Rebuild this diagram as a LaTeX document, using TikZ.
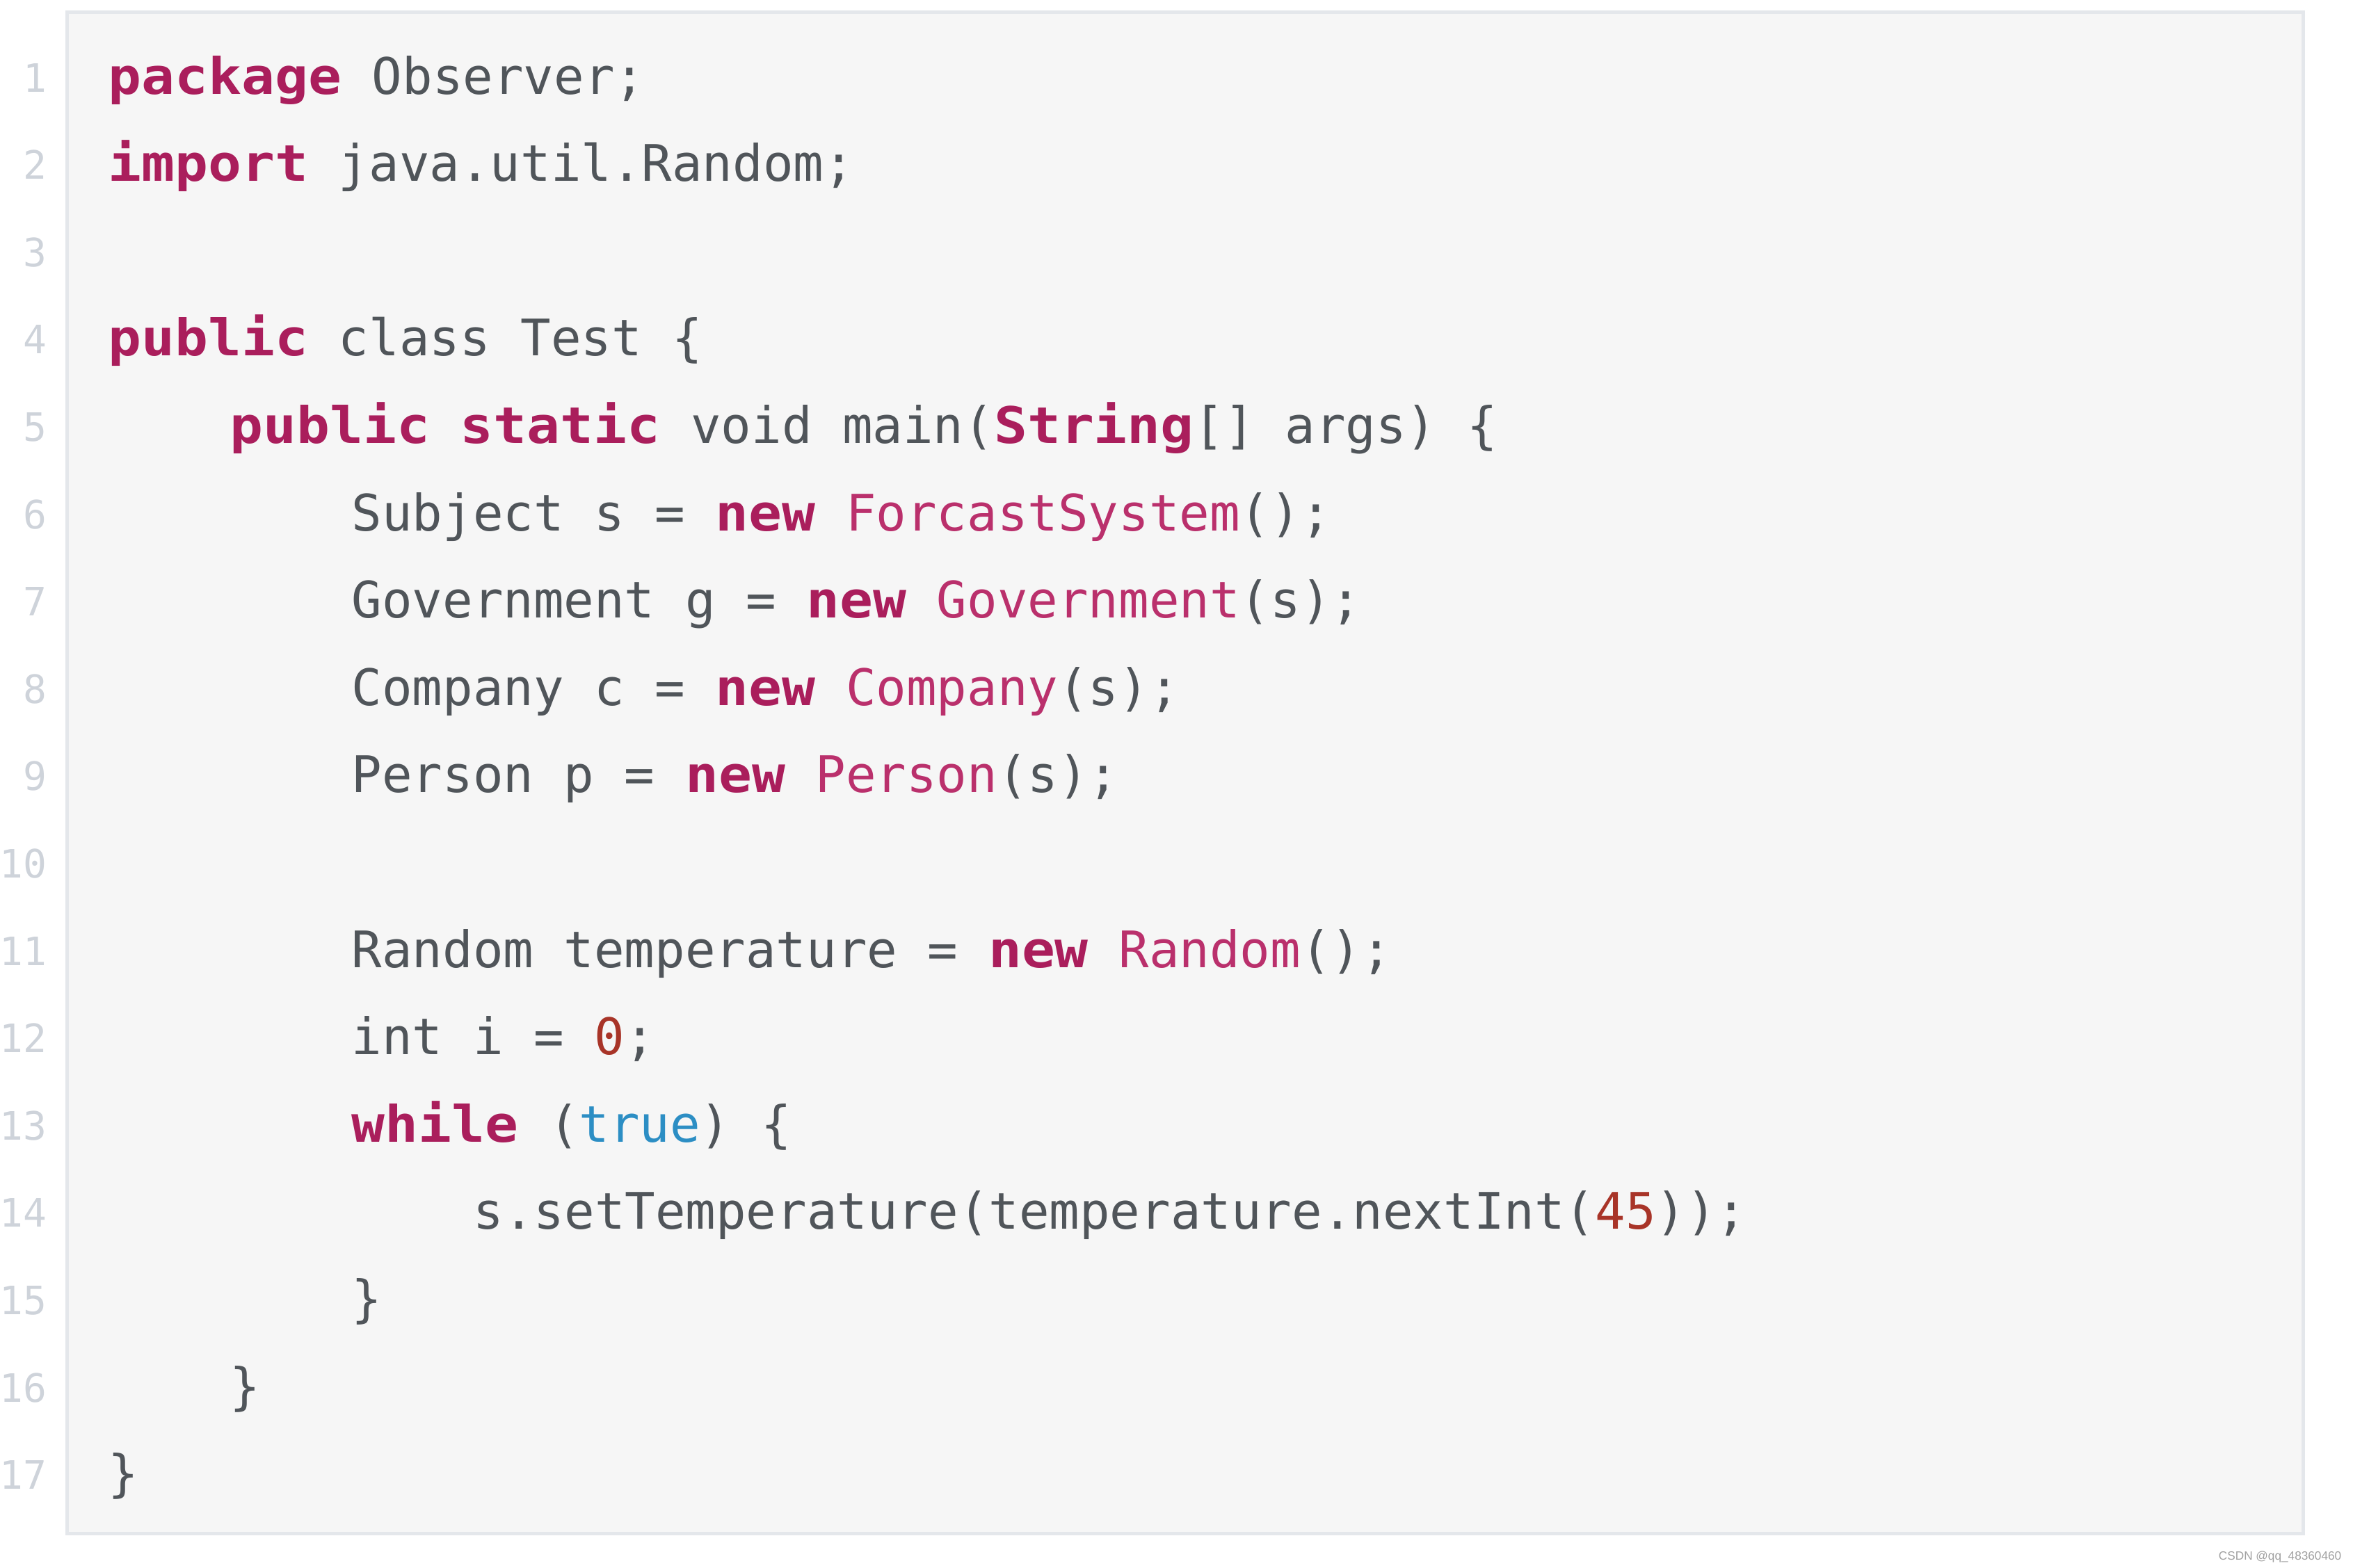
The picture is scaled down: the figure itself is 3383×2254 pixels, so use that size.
\documentclass[tikz,border=0pt]{standalone}
\usepackage{fontspec}
\setmonofont{DejaVu Sans Mono}[BoldFeatures={FakeStretch=1.1}]
\setsansfont{Liberation Sans}
\definecolor{codetext}{RGB}{80,85,90}
\definecolor{keyword}{RGB}{170,30,92}
\definecolor{classname}{RGB}{186,48,108}
\definecolor{number}{RGB}{168,52,40}
\definecolor{literal}{RGB}{44,142,196}
\definecolor{linenum}{RGB}{206,211,218}
\definecolor{codebg}{RGB}{246,246,246}
\definecolor{frame}{RGB}{228,231,235}
\definecolor{wmgray}{RGB}{160,160,160}
\newcommand{\kw}[1]{\textbf{\color{keyword}#1}}
\newcommand{\ty}[1]{{\color{classname}#1}}
\newcommand{\nm}[1]{{\color{number}#1}}
\newcommand{\lit}[1]{{\color{literal}#1}}
\begin{document}
\begin{tikzpicture}[x=0.1mm,y=-0.1mm,
  codeline/.style={anchor=base west,font=\ttfamily\fontsize{20.6}{24}\selectfont,text=codetext},
  lineno/.style={anchor=base east,font=\ttfamily\fontsize{16}{19}\selectfont,text=linenum}]
\tikzstyle{every node}+=[inner sep=0pt]
\useasboundingbox (0,0) rectangle (3383,2254);
\draw [line width=0.5mm,draw=frame,fill=codebg] (96,17) rectangle (3311,2205);

\foreach \i in {1,...,17}
  \node [lineno] (n\i) at (68,{132+(\i-1)*125.6}) {\i};

\node [codeline] (l1) at (155,135) {\kw{package} Observer;};
\node [codeline] (l2) at (155,260.6) {\kw{import} java.util.Random;};
\node [codeline] (l4) at (155,511.8) {\kw{public} class Test \{};
\node [codeline] (l5) at (330,637.4) {\kw{public} \kw{static} void main(\kw{String}[] args) \{};
\node [codeline] (l6) at (505,763) {Subject s = \kw{new} \ty{ForcastSystem}();};
\node [codeline] (l7) at (505,888.6) {Government g = \kw{new} \ty{Government}(s);};
\node [codeline] (l8) at (505,1014.2) {Company c = \kw{new} \ty{Company}(s);};
\node [codeline] (l9) at (505,1139.8) {Person p = \kw{new} \ty{Person}(s);};

\node [codeline] (l11) at (505,1391) {Random temperature = \kw{new} \ty{Random}();};
\node [codeline] (l12) at (505,1516.6) {int i = \nm{0};};
\node [codeline] (l13) at (505,1642.2) {\kw{while} (\lit{true}) \{};
\node [codeline] (l14) at (680,1767.8) {s.setTemperature(temperature.nextInt(\nm{45}));};
\node [codeline] (l15) at (505,1893.4) {\}};
\node [codeline] (l16) at (330,2019) {\}};
\node [codeline] (l17) at (155,2144.6) {\}};

\node [anchor=base east,font=\sffamily\fontsize{4.9}{6}\selectfont,text=wmgray] (mark) at (3367,2243) {CSDN @qq\_48360460};
\end{tikzpicture}
\end{document}
